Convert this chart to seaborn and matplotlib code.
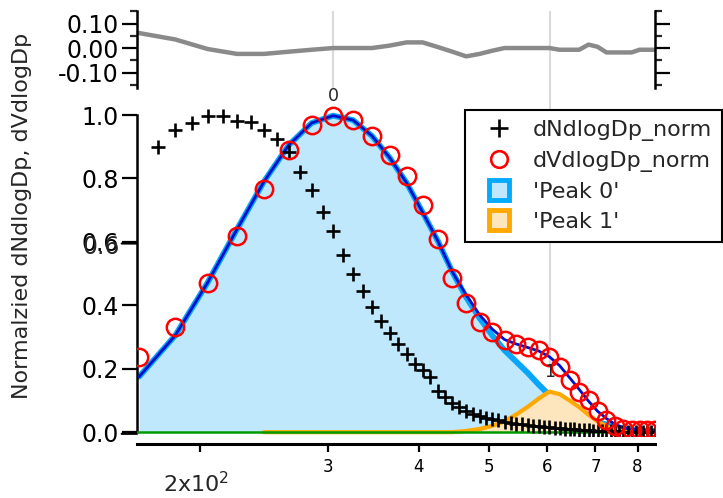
import matplotlib
matplotlib.use("Agg")
import matplotlib.pyplot as plt
from matplotlib.lines import Line2D
from matplotlib.ticker import FixedLocator, NullLocator, FixedFormatter
import pandas as pd
import seaborn as sns

# diameter grid of the volume distribution / fit (nm)
DP_V = [165, 185, 205, 225, 245, 265, 285, 305, 325, 345, 365, 385, 405, 425,
        445, 465, 485, 505, 525, 545, 565, 585, 605, 625, 645, 665, 685, 705,
        725, 745, 765, 785, 805, 825, 845]
DV_NORM = [0.237, 0.331, 0.470, 0.618, 0.767, 0.890, 0.968, 0.997, 0.984, 0.934,
           0.874, 0.808, 0.715, 0.610, 0.487, 0.407, 0.347, 0.315, 0.290, 0.278,
           0.268, 0.259, 0.237, 0.205, 0.165, 0.128, 0.100, 0.068, 0.040, 0.020,
           0.010, 0.006, 0.006, 0.006, 0.008]
FIT_TOTAL = [0.175, 0.305, 0.472, 0.640, 0.790, 0.905, 0.975, 0.998, 0.984, 0.934,
             0.865, 0.786, 0.693, 0.603, 0.505, 0.432, 0.370, 0.325, 0.292, 0.278,
             0.267, 0.256, 0.238, 0.210, 0.172, 0.135, 0.098, 0.066, 0.043, 0.025,
             0.014, 0.009, 0.007, 0.006, 0.005]
PEAK0 = [0.175, 0.305, 0.472, 0.640, 0.790, 0.905, 0.975, 0.998, 0.984, 0.934,
         0.865, 0.786, 0.693, 0.603, 0.505, 0.425, 0.360, 0.305, 0.258, 0.222,
         0.187, 0.150, 0.117, 0.093, 0.072, 0.056, 0.043, 0.032, 0.024, 0.017,
         0.012, 0.008, 0.006, 0.005, 0.004]
RESID = [0.061, 0.035, -0.004, -0.024, -0.024, -0.015, -0.007, 0.0, 0.0, 0.0,
         0.010, 0.023, 0.023, 0.004, -0.015, -0.034, -0.024, -0.011, 0.0, 0.0,
         0.0, 0.0, 0.0, -0.007, -0.007, -0.007, 0.014, 0.005, -0.018, -0.018,
         -0.018, -0.018, -0.007, -0.007, -0.007]

# second peak is only defined from 245 nm on
DP_P1 = [245, 265, 285, 305, 325, 345, 365, 385, 405, 425, 445, 465, 485, 505,
         525, 545, 565, 585, 605, 625, 645, 665, 685, 705, 725, 745, 765, 785,
         805, 825, 845]
PEAK1 = [0.0, 0.0, 0.0, 0.0, 0.0, 0.0, 0.0, 0.0, 0.0, 0.0, 0.0, 0.004, 0.010,
         0.020, 0.034, 0.056, 0.080, 0.106, 0.128, 0.120, 0.100, 0.079, 0.055,
         0.034, 0.018, 0.008, 0.002, 0.0, 0.0, 0.0, 0.0]

# number distribution
DP_N = [175, 185, 195, 205, 215, 225, 235, 245, 255, 265, 275, 285, 295, 305,
        315, 325, 335, 345, 355, 365, 375, 385, 395, 405, 415, 425, 435, 445,
        455, 465, 475, 485, 495, 505, 515, 525, 535, 545, 555, 565, 575, 585,
        595, 605, 615, 625, 635, 645, 655, 665, 675, 685, 695, 705, 715, 725,
        735, 745, 755, 765, 775, 785, 795, 805, 815, 825, 835, 845]
DN_NORM = [0.900, 0.953, 0.975, 0.997, 0.997, 0.980, 0.978, 0.953, 0.924, 0.883,
           0.820, 0.763, 0.694, 0.634, 0.558, 0.498, 0.445, 0.394, 0.350, 0.312,
           0.278, 0.246, 0.215, 0.196, 0.173, 0.130, 0.110, 0.092, 0.078, 0.066,
           0.058, 0.052, 0.046, 0.042, 0.037, 0.033, 0.030, 0.027, 0.025, 0.023,
           0.021, 0.019, 0.017, 0.015, 0.013, 0.012, 0.011, 0.010, 0.009, 0.008,
           0.007, 0.006, 0.005, 0.005, 0.004, 0.004, 0.003, 0.003, 0.002, 0.002,
           0.002, 0.001, 0.001, 0.001, 0.001, 0.001, 0.0, 0.0]

PEAK_POS = [305, 606]
PEAK_HEIGHT = [1.0, 0.13]
PEAK_LABELS = ['0', '1']

XTICKS = [200, 300, 400, 500, 600, 700, 800]
XTICK_LABELS = ['', '3', '4', '5', '6', '7', '8']
YTICKS = [0.0, 0.2, 0.4, 0.6, 0.8, 1.0]
RES_TICKS = [-0.10, 0.0, 0.10]
RES_MINOR = [-0.15, -0.05, 0.05, 0.15]
LEGEND_LABELS = ['dNdlogDp_norm', 'dVdlogDp_norm', "'Peak 0'", "'Peak 1'"]

BLUE_FILL = '#bfe8fc'
BLUE_EDGE = '#08a6f8'
NAVY = '#0010c8'
ORANGE_FILL = '#fde5bd'
ORANGE_EDGE = '#ffa800'
GREEN = '#009a00'
RED = '#ff0000'
GRID = '#dadada'

sns.set_theme(style='white')
plt.rcParams['font.family'] = ['DejaVu Sans']
plt.rcParams['axes.linewidth'] = 1.6

W, H = 723, 498
fig = plt.figure(figsize=(W / 100, H / 100), dpi=100)
ax_r = fig.add_axes([137 / W, (H - 88) / H, 518 / W, 77 / H])
ax = fig.add_axes([137 / W, (H - 436) / H, 518 / W, 340 / H])

XLIM = (163.9, 845.5)

# ---- residual panel
for p in PEAK_POS:
    ax_r.axvline(p, color=GRID, lw=1.5, zorder=0)
res_df = pd.DataFrame({'dp': DP_V, 'res': RESID})
sns.lineplot(data=res_df, x='dp', y='res', ax=ax_r, color='#8a8a8a', lw=3.2,
             estimator=None, sort=False)
ax_r.set_xscale('log')
ax_r.set_xlim(*XLIM)
ax_r.set_ylim(-0.163, 0.151)
ax_r.xaxis.set_major_locator(NullLocator())
ax_r.xaxis.set_minor_locator(NullLocator())
ax_r.yaxis.set_major_locator(FixedLocator(RES_TICKS))
ax_r.yaxis.set_major_formatter(FixedFormatter(['%.2f' % t for t in RES_TICKS]))
ax_r.yaxis.set_minor_locator(FixedLocator(RES_MINOR))
ax_r.tick_params(axis='y', which='major', direction='out', length=11, width=1.6,
                 left=True, right=True, labelleft=True, labelright=False,
                 labelsize=17, pad=2, colors='black')
ax_r.tick_params(axis='y', which='minor', direction='out', length=5, width=1.6,
                 left=True, right=True)
for s in ['top', 'bottom']:
    ax_r.spines[s].set_visible(False)
for s in ['left', 'right']:
    ax_r.spines[s].set_color('black')
    ax_r.spines[s].set_linewidth(1.8)
ax_r.set_xlabel('')
ax_r.set_ylabel('')

# ---- main panel
ax.fill_between(DP_V, 0, PEAK0, color=BLUE_FILL, lw=0, zorder=1)
sns.lineplot(x=DP_V, y=PEAK0, ax=ax, color=BLUE_EDGE, lw=4.2, estimator=None,
             sort=False, zorder=2)
ax.fill_between(DP_P1, 0, PEAK1, color=ORANGE_FILL, lw=0, zorder=3)
sns.lineplot(x=DP_P1, y=PEAK1, ax=ax, color=ORANGE_EDGE, lw=3.0, estimator=None,
             sort=False, zorder=4)
ax.axhline(0, color=GREEN, lw=1.8, zorder=5)
sns.lineplot(x=DP_V, y=FIT_TOTAL, ax=ax, color=NAVY, lw=2.0, estimator=None,
             sort=False, zorder=6)
sns.lineplot(x=DP_N, y=DN_NORM, ax=ax, color='black', marker='+', ms=10, mew=1.9,
             mec='black', linestyle='none', estimator=None, sort=False, zorder=7)
sns.lineplot(x=DP_V, y=DV_NORM, ax=ax, color=RED, marker='o', ms=12.5, mew=1.8,
             mfc='none', mec=RED, linestyle='none', estimator=None, sort=False,
             zorder=8)

YLIM = (-0.012, 1.06)
ax.set_xscale('log')
ax.set_xlim(*XLIM)
ax.set_ylim(*YLIM)

for p, h, lab in zip(PEAK_POS, PEAK_HEIGHT, PEAK_LABELS):
    lo = h + 0.085
    hi = YLIM[1] + 0.03
    if lo < hi:
        ax.vlines(p, lo, hi, color=GRID, lw=1.5, zorder=0, clip_on=False)
    ax.annotate(lab, (p, h), xytext=(0, 13.5), textcoords='offset points',
                ha='center', va='center', fontsize=12.5, zorder=9,
                annotation_clip=False)

ax.xaxis.set_major_locator(FixedLocator(XTICKS))
ax.xaxis.set_major_formatter(FixedFormatter(XTICK_LABELS))
ax.xaxis.set_minor_locator(NullLocator())
ax.yaxis.set_major_locator(FixedLocator(YTICKS))
ax.yaxis.set_major_formatter(FixedFormatter(['%.1f' % t for t in YTICKS]))
ax.tick_params(axis='x', which='major', direction='out', length=6, width=1.6,
               bottom=True, labelsize=12, pad=4, colors='black')
ax.tick_params(axis='y', which='major', direction='out', length=11, width=1.6,
               left=True, labelsize=17, pad=2, colors='black')
ax.annotate('2x10$^{2}$', (200, 0), xycoords=('data', 'axes fraction'),
            xytext=(-3, -34), textcoords='offset points', ha='center',
            va='center', fontsize=16)
# doubled label / thicker ticks of the overlapping second axis
ax.annotate('0.6', (0, 0.6), xycoords=('axes fraction', 'data'),
            xytext=(-12.6, -1.6), textcoords='offset points', ha='right',
            va='center_baseline', fontsize=17)
for yv in [0.0, 0.6]:
    ax.annotate('', (0, yv - 0.005), xycoords=('axes fraction', 'data'),
                xytext=(-11, 0), textcoords='offset points',
                arrowprops=dict(arrowstyle='-', lw=1.6, color='black',
                                shrinkA=0, shrinkB=0))

for s in ['top', 'right']:
    ax.spines[s].set_visible(False)
ax.spines['left'].set_bounds(0, 1.0)
ax.spines['left'].set_color('black')
ax.spines['left'].set_linewidth(1.8)
ax.spines['bottom'].set_position(('outward', 6))
ax.spines['bottom'].set_color('black')
ax.spines['bottom'].set_linewidth(2.2)
ax.set_xlabel('')
ax.set_ylabel('')

fig.text(22 / W, 1 - 216 / H, 'Normalzied dNdlogDp, dVdlogDp', rotation=90,
         ha='center', va='center', fontsize=16)

handles = [
    Line2D([], [], ls='none', marker='+', color='black', ms=13, mew=1.9),
    Line2D([], [], ls='none', marker='o', mfc='none', mec=RED, ms=12, mew=1.9),
    Line2D([], [], ls='none', marker='s', mfc=BLUE_FILL, mec='#00aaff', ms=14, mew=3.5),
    Line2D([], [], ls='none', marker='s', mfc=ORANGE_FILL, mec=ORANGE_EDGE, ms=14, mew=3.5),
]
leg = fig.legend(handles, LEGEND_LABELS, loc='upper left',
                 bbox_to_anchor=(465 / W, 1 - 110 / H), frameon=True,
                 fancybox=False, edgecolor='black', framealpha=1,
                 fontsize=16, handlelength=2.2, handletextpad=0.4,
                 borderpad=0.45, labelspacing=0.45, borderaxespad=0)
leg.get_frame().set_linewidth(1.5)

fig.savefig('out.png', dpi=100)
